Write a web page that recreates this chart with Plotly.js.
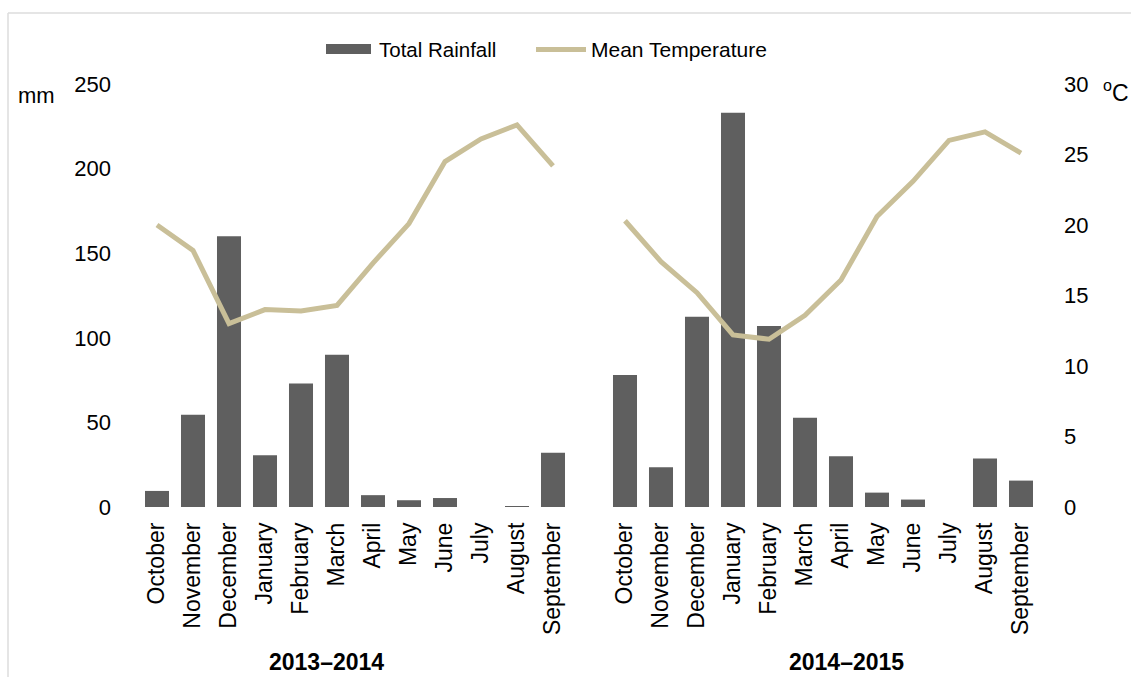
<!DOCTYPE html>
<html>
<head>
<meta charset="utf-8">
<script src="https://cdn.plot.ly/plotly-3.0.1.min.js"></script>
<style>html,body{margin:0;padding:0;background:#fff;}#chart{width:1131px;height:677px;}</style>
</head>
<body>
<div id="chart"></div>
<script>
const months = ['October','November','December','January','February','March','April','May','June','July','August','September'];
const seasons = ['2013–2014', '2014–2015'];
const seriesNames = ['Total Rainfall', 'Mean Temperature'];
const rain1314 = [9.5, 54.5, 160, 30.6, 73, 90, 7, 4, 5.3, 0, 0.6, 32];
const rain1415 = [78, 23.5, 112.4, 233, 107, 52.7, 30, 8.5, 4.4, 0, 28.7, 15.6];
const temp1314 = [20.0, 18.2, 13.0, 14.0, 13.9, 14.3, 17.3, 20.1, 24.5, 26.1, 27.1, 24.2];
const temp1415 = [20.3, 17.4, 15.2, 12.2, 11.9, 13.6, 16.1, 20.6, 23.1, 26.0, 26.6, 25.1];
const rainTicks = [0, 50, 100, 150, 200, 250];
const tempTicks = [0, 5, 10, 15, 20, 25, 30];

const FONT = '"Liberation Sans", Arial, sans-serif';
const BAR_COLOR = '#5f5f5f', LINE_COLOR = '#c9bf98';
const x1 = months.map((m, i) => i);
const x2 = months.map((m, i) => i + 13);
const W = 1131, H = 677, L = 139, R = 92, T = 84, B = 170;
const pw = W - L - R, ph = H - T - B;
const px = v => (v - L) / pw;
const py = v => (H - B - v) / ph;

const bars = {
  type: 'bar',
  name: seriesNames[0],
  x: x1.concat(x2),
  y: rain1314.concat(rain1415),
  marker: {color: BAR_COLOR, line: {width: 0}},
  yaxis: 'y'
};
const line = {
  type: 'scatter',
  mode: 'lines',
  name: seriesNames[1],
  x: x1.concat([12], x2),
  y: temp1314.concat([null], temp1415),
  line: {color: LINE_COLOR, width: 5},
  connectgaps: false,
  yaxis: 'y2'
};

const axisFont = {family: FONT, size: 22, color: '#000'};
const layout = {
  width: W, height: H,
  margin: {l: L, r: R, t: T, b: B, pad: 0},
  paper_bgcolor: '#ffffff', plot_bgcolor: '#ffffff',
  font: {family: FONT, color: '#000000', size: 22},
  bargap: 0.333,
  showlegend: false,
  xaxis: {
    range: [-0.5, 24.5],
    tickmode: 'array',
    tickvals: x1.concat(x2),
    ticktext: months.concat(months),
    tickangle: -90,
    tickfont: {family: FONT, size: 23, color: '#000'},
    ticks: '', showgrid: false, zeroline: false, showline: false,
    ticklabelstandoff: 10,
    fixedrange: true
  },
  yaxis: {
    range: [0, 250],
    tickmode: 'array', tickvals: rainTicks,
    tickfont: axisFont,
    ticks: '', showgrid: false, zeroline: false, showline: false,
    ticklabelstandoff: 27,
    fixedrange: true
  },
  yaxis2: {
    range: [0, 30],
    overlaying: 'y', side: 'right',
    tickmode: 'array', tickvals: tempTicks,
    tickfont: axisFont,
    ticks: '', showgrid: false, zeroline: false, showline: false,
    ticklabelstandoff: 24,
    fixedrange: true
  },
  annotations: [
    {text: 'mm', xref: 'paper', yref: 'paper', x: px(36), y: py(95), xanchor: 'center', yanchor: 'middle',
     showarrow: false, font: {family: FONT, size: 22, color: '#000'}},
    {text: '<sup>o</sup>C', xref: 'paper', yref: 'paper', x: px(1116), y: py(91), xanchor: 'center', yanchor: 'middle',
     showarrow: false, font: {family: FONT, size: 23, color: '#000'}},
    {text: '<b>' + seasons[0] + '</b>', xref: 'paper', yref: 'paper', x: px(326), y: py(662), xanchor: 'center', yanchor: 'middle',
     showarrow: false, font: {family: FONT, size: 23, color: '#000'}},
    {text: '<b>' + seasons[1] + '</b>', xref: 'paper', yref: 'paper', x: px(846), y: py(662), xanchor: 'center', yanchor: 'middle',
     showarrow: false, font: {family: FONT, size: 23, color: '#000'}},
    {text: seriesNames[0], xref: 'paper', yref: 'paper', x: px(377), y: py(49), xanchor: 'left', yanchor: 'middle',
     showarrow: false, font: {family: FONT, size: 20.5, color: '#000'}},
    {text: seriesNames[1], xref: 'paper', yref: 'paper', x: px(589), y: py(49), xanchor: 'left', yanchor: 'middle',
     showarrow: false, font: {family: FONT, size: 21, color: '#000'}}
  ],
  shapes: [
    {type: 'line', xref: 'paper', yref: 'paper', x0: px(8), x1: px(1140), y0: py(13), y1: py(13), line: {color: '#dcdcdc', width: 1.5}},
    {type: 'line', xref: 'paper', yref: 'paper', x0: px(8), x1: px(8), y0: py(13), y1: py(690), line: {color: '#dcdcdc', width: 1.5}},
    {type: 'rect', xref: 'paper', yref: 'paper', x0: px(326), x1: px(371), y0: py(44), y1: py(54), fillcolor: BAR_COLOR, line: {width: 0}},
    {type: 'line', xref: 'paper', yref: 'paper', x0: px(536), x1: px(586), y0: py(49.5), y1: py(49.5), line: {color: LINE_COLOR, width: 5}}
  ]
};

Plotly.newPlot('chart', [bars, line], layout, {displayModeBar: false, staticPlot: true});
</script>
</body>
</html>
